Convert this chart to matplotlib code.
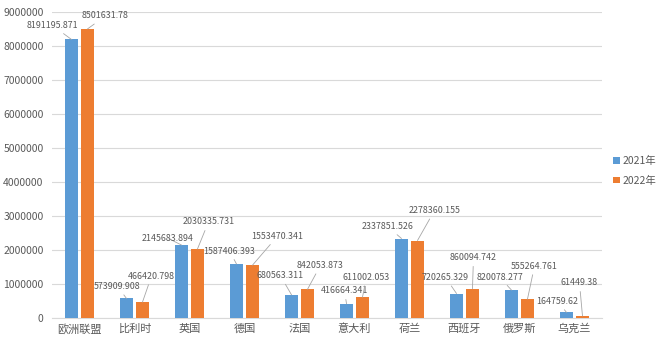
import matplotlib
matplotlib.use("Agg")
import matplotlib.pyplot as plt
import numpy as np

plt.rcParams["font.family"] = ["Noto Sans CJK SC", "DejaVu Sans"]

# Import values per market
COUNTRIES = ["欧洲联盟", "比利时", "英国", "德国", "法国",
             "意大利", "荷兰", "西班牙", "俄罗斯", "乌克兰"]
VALUES_2021 = [8191195.871, 573909.908, 2145683.894, 1587406.393, 680563.311,
               416664.341, 2337851.526, 720265.329, 820078.277, 164759.62]
VALUES_2022 = [8501631.78, 466420.798, 2030335.731, 1553470.341, 842053.873,
               611002.053, 2278360.155, 860094.742, 555264.761, 61449.38]
LABELS_2021 = ["8191195.871", "573909.908", "2145683.894", "1587406.393", "680563.311",
               "416664.341", "2337851.526", "720265.329", "820078.277", "164759.62"]
LABELS_2022 = ["8501631.78", "466420.798", "2030335.731", "1553470.341", "842053.873",
               "611002.053", "2278360.155", "860094.742", "555264.761", "61449.38"]

# label offsets (pixels) from bar top
OFFS_2021 = [(-19, 14), (-9, 12), (-14, 7), (-7, 13), (-11, 19),
             (-2, 13), (-14, 12), (-11, 16), (-12, 13), (-9, 11)]
OFFS_2022 = [(18, 13), (9, 26), (11, 27), (25, 29), (13, 24),
             (4, 20), (17, 30), (1, 31), (7, 33), (-3, 33)]

BLUE = "#5B9BD5"
ORANGE = "#ED7D31"
TEXT = "#595959"

fig = plt.figure(figsize=(6.6, 3.45), dpi=100)
ax = fig.add_axes([52 / 660, 1 - 318 / 345, 550 / 660, 306 / 345])

x = np.arange(len(COUNTRIES))
w = 0.23
ax.bar(x - 0.145, VALUES_2021, w, color=BLUE, label="2021年", zorder=3)
ax.bar(x + 0.145, VALUES_2022, w, color=ORANGE, label="2022年", zorder=3)

for vals, labels, offs, dx in [(VALUES_2021, LABELS_2021, OFFS_2021, -0.145),
                               (VALUES_2022, LABELS_2022, OFFS_2022, 0.145)]:
    for i, (v, lab, off) in enumerate(zip(vals, labels, offs)):
        ax.annotate(lab, (i + dx, v), xytext=off, textcoords="offset pixels",
                    ha="center", va="center", fontsize=6.4, color=TEXT,
                    arrowprops=dict(arrowstyle="-", color="#A6A6A6", lw=0.6,
                                    shrinkA=1, shrinkB=0),
                    zorder=4)

ax.set_xlim(-0.5, len(COUNTRIES) - 0.5)
ax.set_ylim(0, 9000000)
ax.set_yticks(np.arange(0, 9000001, 1000000))
ax.yaxis.set_major_formatter(matplotlib.ticker.FuncFormatter(lambda v, p: f"{int(v)}"))
ax.set_xticks(x)
ax.set_xticklabels(COUNTRIES)
ax.tick_params(axis="both", length=0, colors=TEXT, labelsize=7.5)
ax.tick_params(axis="x", labelsize=8, pad=4)
ax.tick_params(axis="y", pad=6)
ax.grid(axis="y", color="#D9D9D9", lw=0.8, zorder=0)
for s in ["top", "right", "left"]:
    ax.spines[s].set_visible(False)
ax.spines["bottom"].set_color("#D9D9D9")

leg = fig.legend(loc="center left", bbox_to_anchor=(604 / 660, 1 - 171 / 345),
                 frameon=False, fontsize=7.5, handlelength=0.6, handleheight=0.6,
                 handletextpad=0.3, labelspacing=0.9)
for t in leg.get_texts():
    t.set_color(TEXT)

fig.savefig("out.png", dpi=100)
